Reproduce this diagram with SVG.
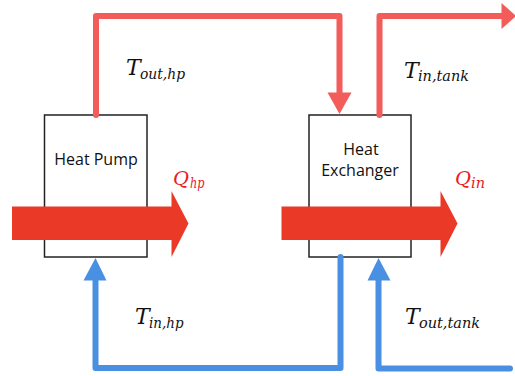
<svg xmlns="http://www.w3.org/2000/svg" width="515" height="376" viewBox="0 0 515 376">
<defs>
<style>
.box{fill:#fff;stroke:#222;stroke-width:1.5}
.lbl{font-family:"Open Sans","Noto Sans",sans-serif;font-size:16px;fill:#111;text-anchor:middle}
.hot{fill:none;stroke:#F25C5A;stroke-width:6;stroke-linecap:round;stroke-linejoin:round}
.cold{fill:none;stroke:#4A90E2;stroke-width:6;stroke-linecap:round;stroke-linejoin:round}
.big{fill:#EA3A27}
.m{font-family:"DejaVu Serif","Liberation Serif",serif;font-style:italic;fill:#111}
.mq{font-family:"DejaVu Serif","Liberation Serif",serif;font-style:italic;fill:#E8201E}
</style>
</defs>
<g id="heat-pump">
<rect class="box" x="44.5" y="115" width="102.5" height="142"/>
<text class="lbl" x="96" y="165">Heat Pump</text>
</g>
<g id="heat-exchanger">
<rect class="box" x="309" y="115" width="102" height="142"/>
<text class="lbl" x="361" y="155">Heat</text>
<text class="lbl" x="360" y="176">Exchanger</text>
</g>
<g id="connectors">
<path class="hot" d="M96,115 V16 H339.5 V94"/>
<polygon fill="#F25C5A" points="327.5,92.5 351.5,92.5 339.5,114"/>
<path class="hot" d="M379.5,115 V16 H503"/>
<polygon fill="#F25C5A" points="501.5,3 501.5,29 516,16"/>
<path class="cold" d="M95.5,278 V368 H340.5 V257"/>
<polygon fill="#4A90E2" points="83.5,280.5 106.5,280.5 95.5,258"/>
<path class="cold" d="M378.5,278 V368.5 H510"/>
<polygon fill="#4A90E2" points="367.5,280.5 390.5,280.5 378.5,258"/>
<polygon class="big" points="12,206.5 171.5,206.5 171.5,191 188.5,223.5 171.5,257 171.5,240 12,240"/>
<polygon class="big" points="281.5,206.5 440.5,206.5 440.5,191 457.5,223.5 440.5,257 440.5,240 281.5,240"/>
</g>
<g id="labels">
<text class="m" x="126" y="75" font-size="22">T</text>
<text class="m" x="140" y="78.5" font-size="15" textLength="45" lengthAdjust="spacingAndGlyphs">out,hp</text>
<text class="m" x="404" y="77.5" font-size="22">T</text>
<text class="m" x="418" y="81" font-size="15" textLength="51" lengthAdjust="spacingAndGlyphs">in,tank</text>
<text class="m" x="135" y="324" font-size="22">T</text>
<text class="m" x="149" y="327.5" font-size="15" textLength="34.5" lengthAdjust="spacingAndGlyphs">in,hp</text>
<text class="m" x="405" y="324" font-size="22">T</text>
<text class="m" x="419" y="327.5" font-size="15" textLength="61" lengthAdjust="spacingAndGlyphs">out,tank</text>
<text class="mq" x="173" y="184.5" font-size="19" textLength="16" lengthAdjust="spacingAndGlyphs">Q</text>
<text class="mq" x="190" y="187.5" font-size="14" textLength="14.5" lengthAdjust="spacingAndGlyphs">hp</text>
<text class="mq" x="455" y="184.5" font-size="19" textLength="16" lengthAdjust="spacingAndGlyphs">Q</text>
<text class="mq" x="471" y="187.5" font-size="14" textLength="14" lengthAdjust="spacingAndGlyphs">in</text>
</g>
</svg>
